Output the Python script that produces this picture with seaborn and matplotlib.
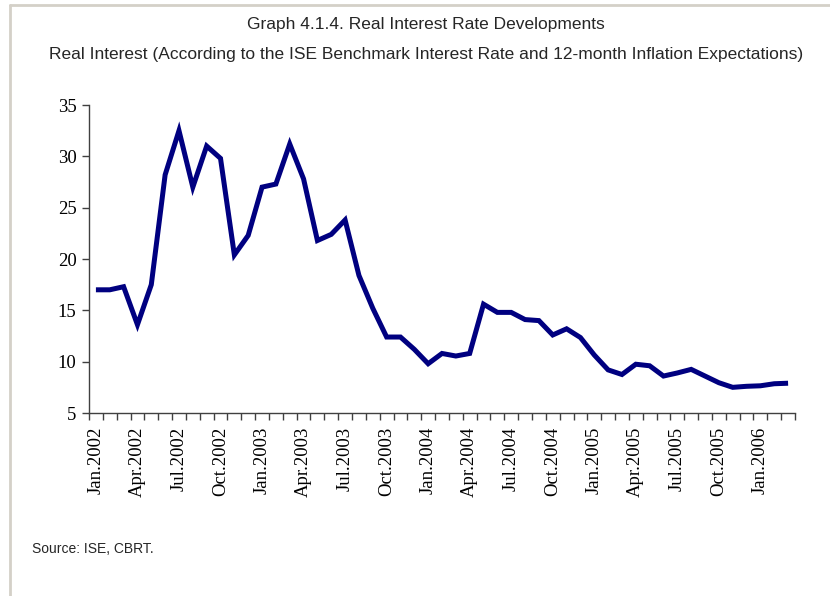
import matplotlib
matplotlib.use("Agg")
import matplotlib.pyplot as plt
import seaborn as sns
import pandas as pd
import numpy as np
from matplotlib.lines import Line2D

months = ["Jan", "Feb", "Mar", "Apr", "May", "Jun", "Jul", "Aug", "Sep", "Oct", "Nov", "Dec"]
years = [2002, 2003, 2004, 2005, 2006]
periods = [f"{m}.{y}" for y in years for m in months][:51]

real_interest = [
    17.0, 17.0, 17.3, 13.6, 17.5, 28.2, 32.5, 27.0, 31.0, 29.8,
    20.4, 22.3, 27.0, 27.3, 31.2, 27.8, 21.8, 22.4, 23.8, 18.4,
    15.2, 12.4, 12.4, 11.2, 9.8, 10.8, 10.55, 10.8, 15.6, 14.8,
    14.8, 14.1, 14.0, 12.6, 13.2, 12.35, 10.65, 9.2, 8.75, 9.75,
    9.6, 8.6, 8.9, 9.25, 8.6, 7.95, 7.5, 7.6, 7.65, 7.85, 7.9,
]
tick_labels = ["Jan.2002", "Apr.2002", "Jul.2002", "Oct.2002", "Jan.2003", "Apr.2003",
               "Jul.2003", "Oct.2003", "Jan.2004", "Apr.2004", "Jul.2004", "Oct.2004",
               "Jan.2005", "Apr.2005", "Jul.2005", "Oct.2005", "Jan.2006"]
title1 = "Graph 4.1.4. Real Interest Rate Developments"
title2 = "Real Interest (According to the ISE Benchmark Interest Rate and 12-month Inflation Expectations)"
source = "Source: ISE, CBRT."

df = pd.DataFrame({"period": periods, "pos": np.arange(len(periods)), "value": real_interest})

sns.set_theme(style="white")
W, H = 830, 596
fig = plt.figure(figsize=(W / 100, H / 100), dpi=100)
fig.patch.set_facecolor("white")

left, right, top, bottom = 89, 795, 105, 413
ax = fig.add_axes([left / W, 1 - bottom / H, (right - left) / W, (bottom - top) / H])
ax.set_facecolor("white")

sns.lineplot(data=df, x="pos", y="value", ax=ax, color="#000080", linewidth=3.6,
             solid_joinstyle="miter", solid_capstyle="butt")

ax.set_xlim(-0.5, len(periods) - 0.5)
ax.set_ylim(5, 35)
ax.set_yticks([5, 10, 15, 20, 25, 30, 35])
ax.set_yticklabels(["5", "10", "15", "20", "25", "30", "35"], fontfamily="Liberation Serif", fontsize=13.5)

label_pos = [periods.index(t) for t in tick_labels]
ax.set_xticks(label_pos)
ax.set_xticklabels(tick_labels, rotation=90, fontfamily="Liberation Serif", fontsize=13.5)
ax.tick_params(axis="x", which="major", length=0, pad=10, colors="black")
ax.set_xticks(np.arange(-0.5, len(periods)), minor=True)
ax.tick_params(axis="x", which="minor", length=5, width=1, color="#404040", direction="out", bottom=True)
ax.tick_params(axis="y", which="major", length=5, width=1, direction="out", left=True, pad=4, labelcolor="black", color="#404040")

ax.set_xlabel("")
ax.set_ylabel("")
for s in ["top", "right"]:
    ax.spines[s].set_visible(False)
for s in ["left", "bottom"]:
    ax.spines[s].set_visible(True)
    ax.spines[s].set_color("#404040")
    ax.spines[s].set_linewidth(1.0)
ax.grid(False)

fig.text(426 / W, 1 - 24 / H, title1, ha="center", va="center", fontfamily="Liberation Sans", fontsize=12.5)
fig.text(426 / W, 1 - 55 / H, title2, ha="center", va="center", fontfamily="Liberation Sans", fontsize=12.5)
fig.text(32 / W, 1 - 549 / H, source, ha="left", va="center", fontfamily="Liberation Sans", fontsize=10)

border = "#d4d0c8"
fig.add_artist(Line2D([10 / W, 1.0], [1 - 5 / H, 1 - 5 / H], transform=fig.transFigure, color=border, linewidth=2))
fig.add_artist(Line2D([10 / W, 10 / W], [1 - 5 / H, 0.0], transform=fig.transFigure, color=border, linewidth=2))

fig.savefig("out.png", dpi=100, facecolor="white")
